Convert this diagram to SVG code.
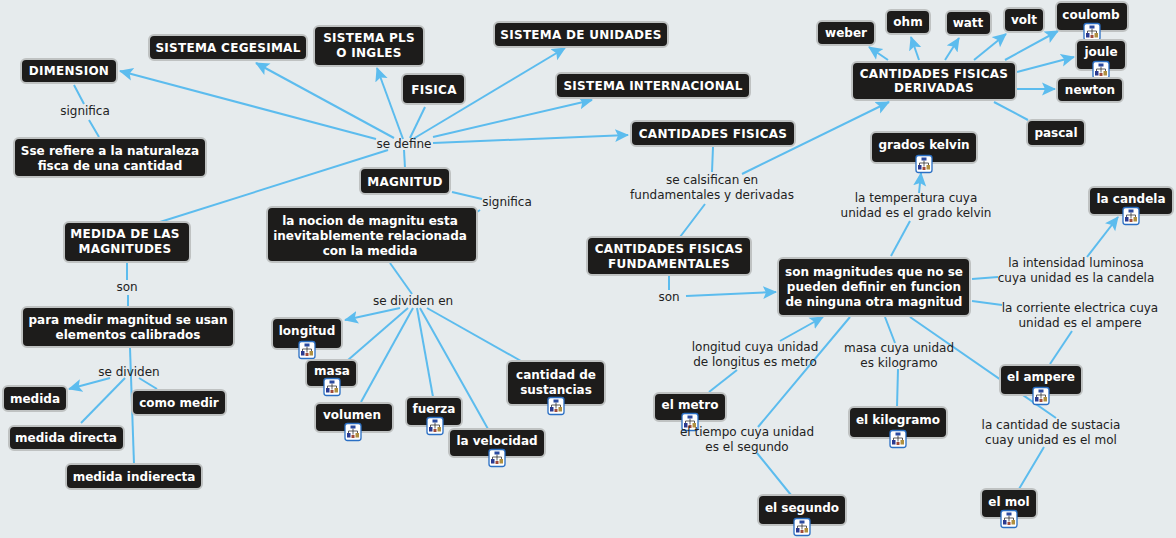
<svg xmlns="http://www.w3.org/2000/svg" width="1176" height="538" viewBox="0 0 1176 538">
<style>
.n{fill:#1d1c1b;stroke:#bfc2c2;stroke-width:2}
.t{font:bold 12px "DejaVu Sans",Verdana,sans-serif;fill:#fff;text-anchor:middle}
.u{letter-spacing:.27px}
.l{font:12px "DejaVu Sans",Verdana,sans-serif;fill:#222;text-anchor:middle}
.c{stroke:#5cbcee;stroke-width:2;fill:none}
.a{marker-end:url(#ar)}
.bg{fill:#e6ebed}
</style>
<defs>
<marker id="ar" markerUnits="userSpaceOnUse" markerWidth="16" markerHeight="16" refX="13" refY="7" orient="auto"><path d="M0 0.5L14 7L0 13.5L3 7Z" fill="#5cbcee"/></marker>
<g id="ic"><rect x="-8" y="-8.500" width="16" height="17" rx="2.500" fill="#fff" stroke="#2a6fc4" stroke-width="1.300"/><path d="M0-3.500V-1M-4.500 1.500V-1H4.500V1.500M0-1V2.500" stroke="#333" fill="none" stroke-width=".8"/><rect x="-2.500" y="-6.500" width="5" height="3" fill="#2a4aa0"/><rect x="-6" y="1" width="3.500" height="4.500" fill="#2a3a90"/><rect x="2.500" y="1" width="3.500" height="4.500" fill="#b09040"/><rect x="-1.500" y="3" width="3" height="3" fill="#a04a3a"/></g>
</defs>
<rect class="bg" width="1176" height="538"/>
<g id="connectors">
<path class="c" d="M74 85L84 104M89 120L99 137"/>
<path class="c a" d="M376 139L120 71"/>
<path class="c a" d="M394 138L256 63"/>
<path class="c a" d="M403 139L377 68"/>
<path class="c" d="M410 138L425 107"/>
<path class="c a" d="M413 139L565 48"/>
<path class="c a" d="M433 137L592 100"/>
<path class="c a" d="M433 143L628 135"/>
<path class="c" d="M388 150L160 222"/>
<path class="c" d="M404 150L405 168"/>
<path class="c" d="M452 192L482 199M480 210L477 212"/>
<path class="c" d="M713 147L712 172M705 204L680 237"/>
<path class="c a" d="M742 174L889 102"/>
<path class="c a" d="M888 60L869 47"/>
<path class="c a" d="M919 60L911 37"/>
<path class="c a" d="M945 60L959 38"/>
<path class="c a" d="M974 60L1006 34"/>
<path class="c a" d="M1005 60L1058 31"/>
<path class="c a" d="M1017 72L1074 57"/>
<path class="c a" d="M1017 89L1055 89"/>
<path class="c" d="M994 102L1028 120"/>
<path class="c a" d="M919 193L921 173"/>
<path class="c" d="M910 221L891 256"/>
<path class="c a" d="M1087 257L1118 217"/>
<path class="c" d="M972 279L998 277"/>
<path class="c" d="M972 301L1002 305"/>
<path class="c" d="M1072 331L1050 364"/>
<path class="c a" d="M686 296L776 292"/>
<path class="c" d="M669 275V290"/>
<path class="c a" d="M780 341L823 317"/>
<path class="c" d="M737 370L709 392"/>
<path class="c" d="M850 317L758 427M757 453L791 495"/>
<path class="c" d="M885 317L895 343M898 369L897 407"/>
<path class="c" d="M910 317L1056 418M1044 447L1019 489"/>
<path class="c" d="M127 263V280M128 295V307"/>
<path class="c a" d="M110 378L69 389"/>
<path class="c" d="M139 378L157 389"/>
<path class="c" d="M125 378L81 423"/>
<path class="c" d="M130 348L134 464"/>
<path class="c" d="M390 263L412 294"/>
<path class="c a" d="M400 308L345 320"/>
<path class="c" d="M408 308L348 360"/>
<path class="c" d="M413 308L361 402"/>
<path class="c" d="M417 308L433 397"/>
<path class="c" d="M420 308L488 429"/>
<path class="c" d="M427 308L521 361"/>
</g>
<g id="n1"><rect class="n" x="21" y="59" width="96" height="24" rx="5"/><text class="t u" x="69" y="75">DIMENSION</text></g>
<g id="n2"><rect class="n" x="14" y="138" width="192" height="39" rx="5"/><text class="t" x="110" y="155">Sse refiere a la naturaleza</text><text class="t" x="110" y="170">fisca de una cantidad</text></g>
<g id="n3"><rect class="n" x="149" y="35" width="158" height="25" rx="5"/><text class="t u" x="228" y="52">SISTEMA CEGESIMAL</text></g>
<g id="n4"><rect class="n" x="314" y="26" width="110" height="40" rx="5"/><text class="t u" x="369" y="42">SISTEMA PLS</text><text class="t u" x="369" y="57">O INGLES</text></g>
<g id="n5"><rect class="n" x="402" y="74" width="63" height="30" rx="5"/><text class="t u" x="434" y="94">FISICA</text></g>
<g id="n6"><rect class="n" x="494" y="22" width="174" height="25" rx="5"/><text class="t u" x="581" y="39">SISTEMA DE UNIDADES</text></g>
<g id="n7"><rect class="n" x="556" y="73" width="194" height="25" rx="5"/><text class="t u" x="653" y="90">SISTEMA INTERNACIONAL</text></g>
<g id="n8"><rect class="n" x="631" y="121" width="164" height="25" rx="5"/><text class="t u" x="713" y="138">CANTIDADES FISICAS</text></g>
<g id="n9"><rect class="n" x="852" y="62" width="164" height="38" rx="5"/><text class="t u" x="934" y="78">CANTIDADES FISICAS</text><text class="t u" x="934" y="92">DERIVADAS</text></g>
<g id="n10"><rect class="n" x="817" y="21" width="58" height="24" rx="5"/><text class="t" x="846" y="37">weber</text></g>
<g id="n11"><rect class="n" x="886" y="10" width="44" height="24" rx="5"/><text class="t" x="908" y="26">ohm</text></g>
<g id="n12"><rect class="n" x="946" y="11" width="45" height="24" rx="5"/><text class="t" x="968" y="27">watt</text></g>
<g id="n13"><rect class="n" x="1004" y="8" width="40" height="24" rx="5"/><text class="t" x="1024" y="24">volt</text></g>
<g id="n14"><rect class="n" x="1056" y="2" width="72" height="29" rx="5"/><text class="t" x="1091" y="19">coulomb</text><use href="#ic" x="1092" y="32"/></g>
<g id="n15"><rect class="n" x="1076" y="40" width="50" height="30" rx="5"/><text class="t" x="1101" y="56">joule</text><use href="#ic" x="1101" y="70"/></g>
<g id="n16"><rect class="n" x="1057" y="78" width="66" height="24" rx="5"/><text class="t" x="1090" y="94">newton</text></g>
<g id="n17"><rect class="n" x="1027" y="120" width="58" height="26" rx="5"/><text class="t" x="1056" y="137">pascal</text></g>
<g id="n18"><rect class="n" x="871" y="132" width="106" height="31" rx="5"/><text class="t" x="924" y="149">grados kelvin</text><use href="#ic" x="924" y="164"/></g>
<g id="n19"><rect class="n" x="1089" y="187" width="84" height="28" rx="5"/><text class="t" x="1131" y="203">la candela</text><use href="#ic" x="1131" y="216"/></g>
<g id="n20"><rect class="n" x="778" y="258" width="192" height="58" rx="5"/><text class="t" x="874" y="276">son magnitudes que no se</text><text class="t" x="874" y="291">pueden definir en funcion</text><text class="t" x="874" y="306">de ninguna otra magnitud</text></g>
<g id="n21"><rect class="n" x="1000" y="365" width="82" height="30" rx="5"/><text class="t" x="1041" y="381">el ampere</text><use href="#ic" x="1041" y="396"/></g>
<g id="n22"><rect class="n" x="981" y="489" width="56" height="29" rx="5"/><text class="t" x="1009" y="506">el mol</text><use href="#ic" x="1009" y="519"/></g>
<g id="n23"><rect class="n" x="849" y="407" width="98" height="31" rx="5"/><text class="t" x="898" y="424">el kilogramo</text><use href="#ic" x="898" y="439"/></g>
<g id="n24"><rect class="n" x="654" y="393" width="72" height="28" rx="5"/><text class="t" x="690" y="409">el metro</text><use href="#ic" x="690" y="422"/></g>
<g id="n25"><rect class="n" x="758" y="495" width="88" height="30" rx="5"/><text class="t" x="802" y="512">el segundo</text><use href="#ic" x="802" y="527"/></g>
<g id="n26"><rect class="n" x="587" y="237" width="164" height="38" rx="5"/><text class="t u" x="669" y="253">CANTIDADES FISICAS</text><text class="t u" x="669" y="268">FUNDAMENTALES</text></g>
<g id="n27"><rect class="n" x="360" y="168" width="90" height="26" rx="5"/><text class="t u" x="405" y="186">MAGNITUD</text></g>
<g id="n28"><rect class="n" x="267" y="207" width="210" height="55" rx="5"/><text class="t" x="370" y="225">la nocion de magnitu esta</text><text class="t" x="370" y="240">inevitablemente relacionada</text><text class="t" x="370" y="255">con la medida</text></g>
<g id="n29"><rect class="n" x="64" y="222" width="126" height="40" rx="5"/><text class="t u" x="125" y="238">MEDIDA DE LAS</text><text class="t u" x="125" y="253">MAGNITUDES</text></g>
<g id="n30"><rect class="n" x="22" y="307" width="212" height="40" rx="5"/><text class="t" x="128" y="324">para medir magnitud se usan</text><text class="t" x="128" y="339">elementos calibrados</text></g>
<g id="n31"><rect class="n" x="3" y="386" width="64" height="25" rx="5"/><text class="t" x="35" y="403">medida</text></g>
<g id="n32"><rect class="n" x="132" y="390" width="94" height="25" rx="5"/><text class="t" x="179" y="407">como medir</text></g>
<g id="n33"><rect class="n" x="9" y="426" width="115" height="24" rx="5"/><text class="t" x="66" y="442">medida directa</text></g>
<g id="n34"><rect class="n" x="66" y="464" width="136" height="25" rx="5"/><text class="t" x="134" y="481">medida indierecta</text></g>
<g id="n35"><rect class="n" x="272" y="318" width="70" height="31" rx="5"/><text class="t" x="307" y="335">longitud</text><use href="#ic" x="307" y="350"/></g>
<g id="n36"><rect class="n" x="306" y="360" width="51" height="27" rx="5"/><text class="t" x="332" y="375">masa</text><use href="#ic" x="332" y="387"/></g>
<g id="n37"><rect class="n" x="315" y="403" width="78" height="29" rx="5"/><text class="t" x="352" y="419">volumen</text><use href="#ic" x="353" y="432"/></g>
<g id="n38"><rect class="n" x="406" y="397" width="56" height="29" rx="5"/><text class="t" x="434" y="413">fuerza</text><use href="#ic" x="435" y="426"/></g>
<g id="n39"><rect class="n" x="449" y="429" width="96" height="28" rx="5"/><text class="t" x="497" y="445">la velocidad</text><use href="#ic" x="497" y="458"/></g>
<g id="n40"><rect class="n" x="507" y="361" width="98" height="44" rx="5"/><text class="t" x="556" y="379">cantidad de</text><text class="t" x="556" y="394">sustancias</text><use href="#ic" x="556" y="406"/></g>
<g id="labels">
<text class="l" x="85" y="115">significa</text>
<text class="l" x="404" y="148">se define</text>
<text class="l" x="507" y="206">significa</text>
<text class="l" x="712" y="184">se calsifican en</text><text class="l" x="712" y="199">fundamentales y derivadas</text>
<text class="l" x="916" y="202">la temperatura cuya</text><text class="l" x="916" y="217">unidad es el grado kelvin</text>
<text class="l" x="1076" y="267">la intensidad luminosa</text><text class="l" x="1076" y="282">cuya unidad es la candela</text>
<text class="l" x="1080" y="312">la corriente electrica cuya</text><text class="l" x="1080" y="327">unidad es el ampere</text>
<text class="l" x="669" y="301">son</text>
<text class="l" x="755" y="351">longitud cuya unidad</text><text class="l" x="755" y="366">de longitus es metro</text>
<text class="l" x="899" y="352">masa cuya unidad</text><text class="l" x="899" y="367">es kilogramo</text>
<text class="l" x="747" y="436">el tiempo cuya unidad</text><text class="l" x="747" y="451">es el segundo</text>
<text class="l" x="1051" y="429">la cantidad de sustacia</text><text class="l" x="1051" y="444">cuay unidad es el mol</text>
<text class="l" x="127" y="291">son</text>
<text class="l" x="129" y="376">se dividen</text>
<text class="l" x="413" y="305">se dividen en</text>
</g>
</svg>
